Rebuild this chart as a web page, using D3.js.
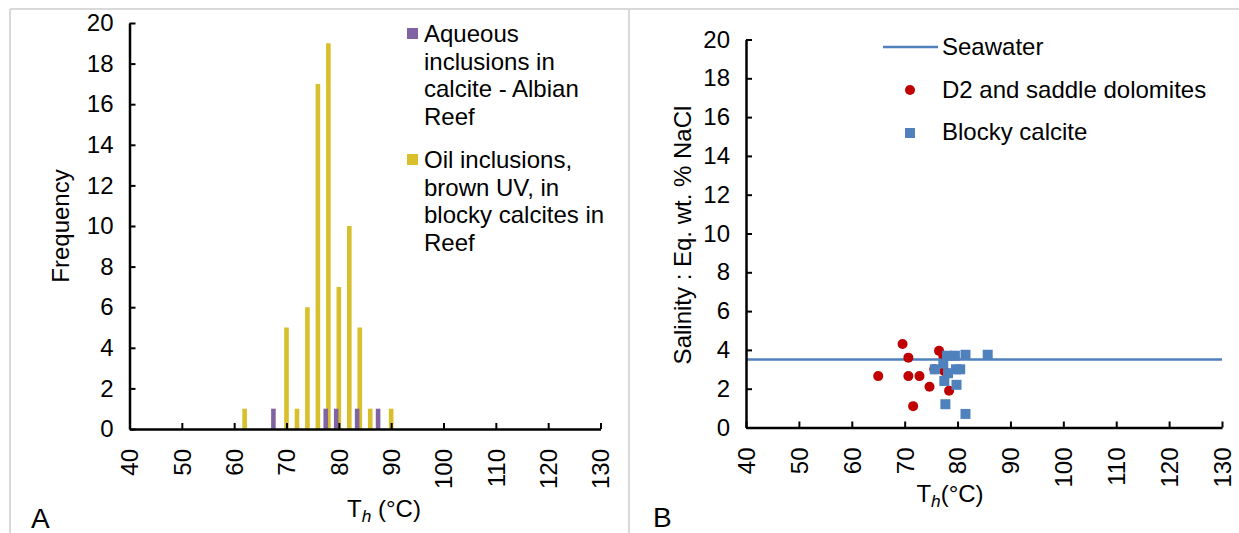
<!DOCTYPE html>
<html><head><meta charset="utf-8">
<script src="https://cdn.jsdelivr.net/npm/d3@7/dist/d3.min.js"></script>
<style>
body{margin:0;background:#fff;}
svg{display:block;font-family:"Liberation Sans",Arial,sans-serif;}
</style></head>
<body><svg id="c" width="1239" height="533"></svg>
<script>
// ---- Data ----
const xTicks = [40,50,60,70,80,90,100,110,120,130];
const yTicks = [0,2,4,6,8,10,12,14,16,18,20];
// Panel A: histogram
const aqueousT = [67.5,77.5,79.5,83.5,87.5];
const aqueousF = [1,1,1,1,1];
const oilT = [62,70,72,74,76,78,80,82,84,86,90];
const oilF = [1,5,1,6,17,19,7,10,5,1,1];
const legendA = [
  {name:["Aqueous","inclusions in","calcite - Albian","Reef"], color:"#8064a2"},
  {name:["Oil inclusions,","brown UV, in","blocky calcites in","Reef"], color:"#d8bf2c"}
];
// Panel B: scatter
const seawaterT = [40,130];
const seawaterS = [3.5,3.5];
const dolomiteT = [65,69.6,70.7,70.7,71.6,72.8,74.7,75.6,76.5,77.3,78.4,77.5];
const dolomiteS = [2.65,4.3,3.6,2.65,1.1,2.65,2.1,3.0,3.95,3.7,1.9,2.9];
const calciteT = [75.7,77.3,77.5,77.7,78,78.2,79.5,79.7,79.8,80.5,81.5,81.5,85.7];
const calciteS = [3.0,3.3,2.4,1.2,3.7,2.8,3.7,3.0,2.2,3.0,3.75,0.7,3.75];

const svg = d3.select("#c");
const FS = 24;

// frame lines
const frame = svg.append("g").attr("stroke","#d9d9d9").attr("stroke-width",2);
frame.append("line").attr("x1",10).attr("x2",1239).attr("y1",9).attr("y2",9);
frame.append("line").attr("x1",10).attr("x2",10).attr("y1",9).attr("y2",533);
frame.append("line").attr("x1",629).attr("x2",629).attr("y1",9).attr("y2",533);

function drawAxes(g, x, y){
  const gx = g.append("g").attr("transform",`translate(0,${y.range()[0]})`)
    .call(d3.axisBottom(x).tickValues(xTicks).tickSizeInner(-6).tickSizeOuter(0).tickPadding(0));
  gx.select(".domain").attr("stroke","#000").attr("stroke-width",2.5);
  gx.selectAll(".tick line").attr("stroke","#000").attr("stroke-width",2);
  gx.selectAll(".tick text").attr("font-size",FS).attr("fill","#000")
    .attr("text-anchor","end").attr("transform","translate(0,20) rotate(-90)")
    .attr("dx",0).attr("dy","0.35em").attr("y",0).attr("x",0);
  const gy = g.append("g").attr("transform",`translate(${x.range()[0]},0)`)
    .call(d3.axisLeft(y).tickValues(yTicks).tickSizeInner(-6).tickSizeOuter(0).tickPadding(16));
  gy.select(".domain").attr("stroke","#000").attr("stroke-width",2.5);
  gy.selectAll(".tick line").attr("stroke","#000").attr("stroke-width",2);
  gy.selectAll(".tick text").attr("font-size",FS).attr("fill","#000");
}

function thLabel(g, cx, by, space){
  const t = g.append("text").attr("x",cx).attr("y",by).attr("text-anchor","middle")
    .attr("font-size",FS).attr("fill","#000");
  t.append("tspan").text("T");
  t.append("tspan").attr("font-style","italic").attr("font-size",FS*0.72).attr("dy",5).text("h");
  t.append("tspan").attr("dy",-5).text(space ? " (°C)" : "(°C)");
}

// ---- Panel A ----
const gA = svg.append("g");
const xA = d3.scaleLinear().domain([40,130]).range([129.5,600.5]);
const yA = d3.scaleLinear().domain([0,20]).range([429,23]);
const bw = 4.6;
gA.append("g").selectAll("rect").data(oilT).join("rect")
  .attr("x",(d)=>xA(d)-bw/2).attr("width",bw)
  .attr("y",(d,i)=>yA(oilF[i])).attr("height",(d,i)=>yA(0)-yA(oilF[i]))
  .attr("fill",legendA[1].color);
gA.append("g").selectAll("rect").data(aqueousT).join("rect")
  .attr("x",(d)=>xA(d)-bw/2).attr("width",bw)
  .attr("y",(d,i)=>yA(aqueousF[i])).attr("height",(d,i)=>yA(0)-yA(aqueousF[i]))
  .attr("fill",legendA[0].color);
drawAxes(gA, xA, yA);
gA.append("text").attr("transform","translate(69,226) rotate(-90)").attr("text-anchor","middle")
  .attr("font-size",FS).text("Frequency");
thLabel(gA, 384, 517, true);
gA.append("text").attr("x",31).attr("y",528).attr("font-size",28).text("A");
// legend A
const lA = gA.append("g");
const lineH = 27.5;
legendA.forEach((s,k)=>{
  const y0 = k===0 ? 42 : 168;
  lA.append("rect").attr("x",407).attr("y",y0-14).attr("width",11).attr("height",11).attr("fill",s.color);
  s.name.forEach((ln,j)=>{
    lA.append("text").attr("x",424).attr("y",y0+j*lineH).attr("font-size",FS).text(ln);
  });
});

// ---- Panel B ----
const gB = svg.append("g");
const xB = d3.scaleLinear().domain([40,130]).range([746,1222]);
const yB = d3.scaleLinear().domain([0,20]).range([427.5,39.5]);
gB.append("path").datum(seawaterT.map((t,i)=>[t,seawaterS[i]]))
  .attr("d",d3.line().x(d=>xB(d[0])).y(d=>yB(d[1])))
  .attr("stroke","#4f81bd").attr("stroke-width",2.5).attr("fill","none");
gB.append("g").selectAll("circle").data(dolomiteT).join("circle")
  .attr("cx",d=>xB(d)).attr("cy",(d,i)=>yB(dolomiteS[i])).attr("r",5).attr("fill","#c00000");
gB.append("g").selectAll("rect").data(calciteT).join("rect")
  .attr("x",d=>xB(d)-5).attr("y",(d,i)=>yB(calciteS[i])-5).attr("width",10).attr("height",10)
  .attr("fill","#4f81bd");
drawAxes(gB, xB, yB);
gB.append("text").attr("transform","translate(691,235) rotate(-90)").attr("text-anchor","middle")
  .attr("font-size",FS).text("Salinity : Eq. wt. % NaCl");
thLabel(gB, 950, 502, false);
gB.append("text").attr("x",653).attr("y",527).attr("font-size",28).text("B");
// legend B
const lB = gB.append("g");
lB.append("line").attr("x1",883).attr("x2",938).attr("y1",47).attr("y2",47).attr("stroke","#4f81bd").attr("stroke-width",2.5);
lB.append("text").attr("x",942).attr("y",55).attr("font-size",FS).text("Seawater");
lB.append("circle").attr("cx",910).attr("cy",90).attr("r",5).attr("fill","#c00000");
lB.append("text").attr("x",942).attr("y",98).attr("font-size",FS).text("D2 and saddle dolomites");
lB.append("rect").attr("x",905).attr("y",128).attr("width",10).attr("height",10).attr("fill","#4f81bd");
lB.append("text").attr("x",942).attr("y",140).attr("font-size",FS).text("Blocky calcite");
</script></body></html>
